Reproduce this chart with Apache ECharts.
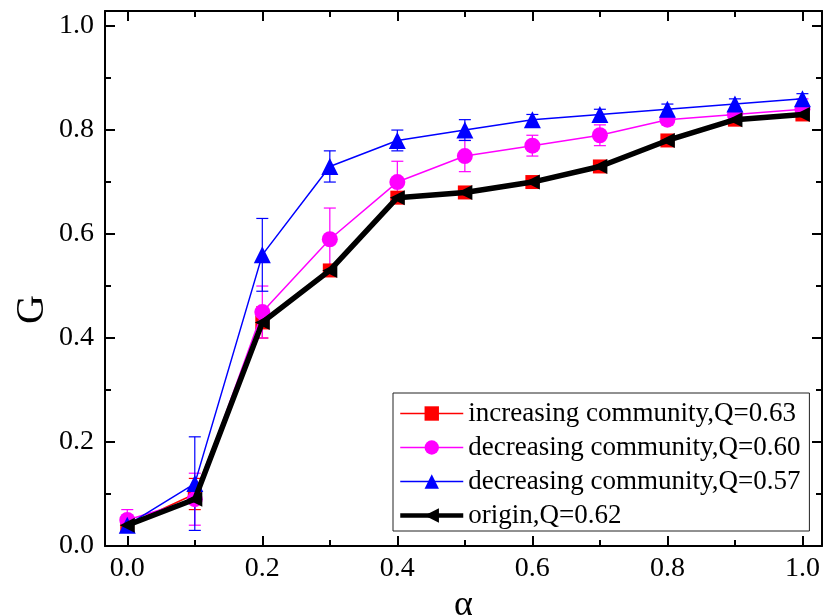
<!DOCTYPE html>
<html>
<head>
<meta charset="utf-8">
<script src="https://cdn.jsdelivr.net/npm/echarts@6/dist/echarts.min.js"></script>
<style>html,body{margin:0;padding:0;background:#fff}#c{width:824px;height:616px}</style>
</head>
<body>
<div id="c"></div>
<script>
const alpha = [0.0, 0.1, 0.2, 0.3, 0.4, 0.5, 0.6, 0.7, 0.8, 0.9, 1.0];
const inc63 = [0.04, 0.10, 0.43, 0.53, 0.67, 0.68, 0.70, 0.73, 0.78, 0.82, 0.83];
const inc63Err = [0.01, 0.03, 0.03, 0.01, 0.01, 0.01, 0.01, 0.01, 0.01, 0.01, 0.01];
const dec60 = [0.05, 0.09, 0.45, 0.59, 0.70, 0.75, 0.77, 0.79, 0.82, 0.83, 0.84];
const dec60Err = [0.02, 0.05, 0.05, 0.06, 0.04, 0.03, 0.02, 0.02, 0.01, 0.01, 0.02];
const dec57 = [0.04, 0.12, 0.56, 0.73, 0.78, 0.80, 0.82, 0.83, 0.84, 0.85, 0.86];
const dec57Err = [0.01, 0.09, 0.07, 0.03, 0.02, 0.02, 0.01, 0.01, 0.01, 0.01, 0.01];
const origin62 = [0.04, 0.09, 0.43, 0.53, 0.67, 0.68, 0.70, 0.73, 0.78, 0.82, 0.83];
const xMajor = [0.0, 0.2, 0.4, 0.6, 0.8, 1.0];
const xMinor = [0.1, 0.3, 0.5, 0.7, 0.9];
const yMajor = [0.0, 0.2, 0.4, 0.6, 0.8, 1.0];
const yMinor = [0.1, 0.3, 0.5, 0.7, 0.9];
const names = ['increasing community,Q=0.63', 'decreasing community,Q=0.60', 'decreasing community,Q=0.57', 'origin,Q=0.62'];

const FONT = '"Liberation Serif", "Times New Roman", serif';
const pairs = ys => alpha.map((a, i) => [a, ys[i]]);
const errData = (ys, es) => alpha.map((a, i) => [a, ys[i] - es[i], ys[i] + es[i]]);

function errSeries(ys, es, color) {
  return {
    type: 'custom', xAxisIndex: 0, yAxisIndex: 0, z: 1, silent: true,
    data: errData(ys, es),
    renderItem: function (params, api) {
      const x = api.value(0);
      const lo = api.coord([x, api.value(1)]);
      const hi = api.coord([x, api.value(2)]);
      const w = 6;
      const st = { stroke: color, lineWidth: 1.2 };
      return {
        type: 'group',
        children: [
          { type: 'line', shape: { x1: lo[0], y1: lo[1], x2: hi[0], y2: hi[1] }, style: st },
          { type: 'line', shape: { x1: lo[0] - w, y1: lo[1], x2: lo[0] + w, y2: lo[1] }, style: st },
          { type: 'line', shape: { x1: hi[0] - w, y1: hi[1], x2: hi[0] + w, y2: hi[1] }, style: st }
        ]
      };
    }
  };
}

function axisCommon(pos, vals, len, showLine, isX) {
  return {
    type: 'value', position: pos,
    min: isX ? -0.033 : 0, max: 1.029,
    axisLine: { show: showLine, onZero: false, lineStyle: { color: '#000', width: 2 } },
    axisTick: { show: true, inside: true, length: len, lineStyle: { color: '#000', width: 2 }, customValues: vals },
    axisLabel: { show: false },
    splitLine: { show: false }
  };
}

const xAxes = [
  Object.assign(axisCommon('bottom', xMajor, 10, true, true), {
    axisLabel: { show: true, customValues: xMajor, formatter: v => v.toFixed(1), fontFamily: FONT, fontSize: 28, color: '#000', margin: 9 },
    name: 'α', nameLocation: 'middle', nameGap: 30, nameTextStyle: { fontFamily: FONT, fontSize: 36, color: '#000' }
  }),
  axisCommon('bottom', xMinor, 6, false, true),
  axisCommon('top', xMajor, 10, true, true),
  axisCommon('top', xMinor, 6, false, true)
];
const yAxes = [
  Object.assign(axisCommon('left', yMajor, 10, true, false), {
    axisLabel: { show: true, customValues: yMajor, formatter: v => v.toFixed(1), fontFamily: FONT, fontSize: 28, color: '#000', margin: 11 }
  }),
  axisCommon('left', yMinor, 6, false, false),
  axisCommon('right', yMajor, 10, true, false),
  axisCommon('right', yMinor, 6, false, false)
];

const chart = echarts.init(document.getElementById('c'), null, { renderer: 'canvas' });
chart.setOption({
  backgroundColor: '#fff',
  animation: false,
  grid: { left: 105, right: 2, top: 11, bottom: 70, containLabel: false, outerBoundsMode: 'none' },
  xAxis: xAxes,
  yAxis: yAxes,
  legend: {
    data: [
      { name: names[0], lineStyle: { width: 1.5 } },
      { name: names[1], lineStyle: { width: 1.5 } },
      { name: names[2], lineStyle: { width: 1.5 } },
      { name: names[3], lineStyle: { width: 4.5 } }
    ],
    orient: 'vertical', left: 393, top: 393,
    itemWidth: 63, itemHeight: 18, itemGap: 7,
    padding: [7, 9, 2, 5],
    borderColor: '#222', borderWidth: 1, backgroundColor: '#fff',
    textStyle: { fontFamily: FONT, fontSize: 27, color: '#000' }
  },
  graphic: [{
    type: 'text',
    rotation: Math.PI / 2,
    style: { text: 'G', fontFamily: FONT, fontSize: 40, fill: '#000' },
    x: 12, y: 324
  }],
  series: [
    errSeries(inc63, inc63Err, '#ff0000'),
    errSeries(dec60, dec60Err, '#ff00ff'),
    errSeries(dec57, dec57Err, '#0000ff'),
    { name: names[0], type: 'line', data: pairs(inc63), z: 2, symbol: 'rect', symbolSize: 14,
      lineStyle: { color: '#ff0000', width: 1.5 }, itemStyle: { color: '#ff0000' } },
    { name: names[1], type: 'line', data: pairs(dec60), z: 3, symbol: 'circle', symbolSize: 16,
      lineStyle: { color: '#ff00ff', width: 1.5 }, itemStyle: { color: '#ff00ff' } },
    { name: names[2], type: 'line', data: pairs(dec57), z: 4, symbol: 'triangle', symbolSize: 17,
      lineStyle: { color: '#0000ff', width: 1.5 }, itemStyle: { color: '#0000ff' } },
    { name: names[3], type: 'line', data: pairs(origin62), z: 5, symbol: 'triangle', symbolSize: 15, symbolRotate: 90,
      lineStyle: { color: '#000', width: 5.5 }, itemStyle: { color: '#000' } }
  ]
});
</script>
</body>
</html>
